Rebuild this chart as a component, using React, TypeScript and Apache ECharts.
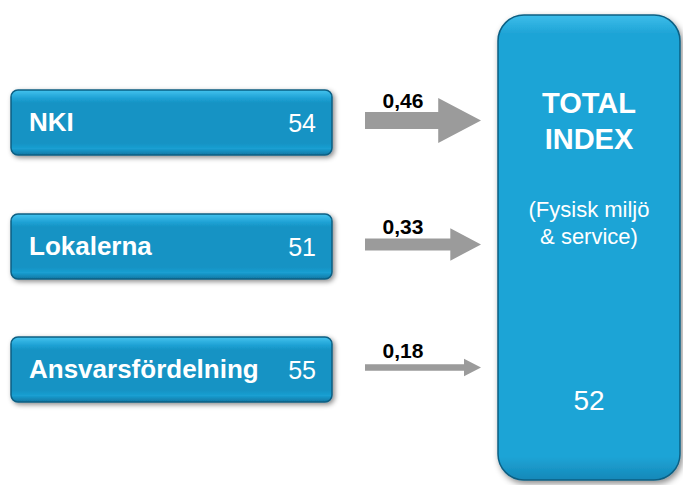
import React, { useEffect, useRef } from "react";
import * as echarts from "echarts";

const drivers = ["NKI", "Lokalerna", "Ansvarsfördelning"];
const driverIndex = [54, 51, 55];
const coefficients = [0.46, 0.33, 0.18];
const totalTitle = ["TOTAL", "INDEX"];
const totalSub = ["(Fysisk miljö", "& service)"];
const totalIndex = 52;

const FONT = "'Liberation Sans', Arial, sans-serif";

function buildGraphic() {
  const els: any[] = [];
  const boxX = 11, boxW = 321, boxH = 65;
  const rowTops = [90, 214, 337];
  drivers.forEach((name, i) => {
    const top = rowTops[i];
    els.push({
      type: "rect",
      shape: { x: boxX, y: top, width: boxW, height: boxH, r: 7 },
      style: {
        fill: new echarts.graphic.LinearGradient(0, 0, 0, 1, [
          { offset: 0, color: "#45c3ee" },
          { offset: 0.12, color: "#1fa3d6" },
          { offset: 0.2, color: "#1593c4" },
          { offset: 0.82, color: "#1593c4" },
          { offset: 0.9, color: "#1a9fd2" },
          { offset: 1, color: "#0f77a3" },
        ]),
        stroke: "#0b5f83",
        lineWidth: 1.5,
        shadowBlur: 5,
        shadowOffsetX: 2,
        shadowOffsetY: 2,
        shadowColor: "rgba(0,0,0,0.45)",
      },
    });
    els.push({
      type: "text",
      style: {
        x: 29, y: top + boxH / 2 - 1, text: name, fill: "#ffffff",
        font: `bold 26px ${FONT}`, verticalAlign: "middle", align: "left",
      },
    });
    els.push({
      type: "text",
      style: {
        x: 316, y: top + boxH / 2, text: String(driverIndex[i]), fill: "#ffffff",
        font: `25px ${FONT}`, verticalAlign: "middle", align: "right",
      },
    });
    // arrow scaled by coefficient
    const c = coefficients[i];
    const cy = top + boxH / 2 - 2;
    const x0 = 365;
    const tip = 481;
    const shaftH = Math.max(4, c * 37);
    const headH = Math.max(13, c * 98);
    const headL = Math.max(17, c * 93);
    const hx = tip - headL;
    els.push({
      type: "polygon",
      shape: {
        points: [
          [x0, cy - shaftH / 2], [hx, cy - shaftH / 2], [hx, cy - headH / 2],
          [tip, cy], [hx, cy + headH / 2], [hx, cy + shaftH / 2], [x0, cy + shaftH / 2],
        ],
      },
      style: { fill: "#9b9b9b" },
    });
    els.push({
      type: "text",
      style: {
        x: 403, y: cy - Math.max(shaftH / 2, 6) - 1, text: c.toFixed(2).replace(".", ","),
        fill: "#000000", font: `bold 21px ${FONT}`, align: "center", verticalAlign: "bottom",
      },
    });
  });

  // total box
  const tx = 498, ty = 15, tw = 182, th = 465;
  const cx = tx + tw / 2;
  els.push({
    type: "rect",
    shape: { x: tx, y: ty, width: tw, height: th, r: 26 },
    style: {
      fill: new echarts.graphic.LinearGradient(0, 0, 0, 1, [
        { offset: 0, color: "#3dbdea" },
        { offset: 0.04, color: "#1ea4d6" },
        { offset: 0.95, color: "#1ea4d6" },
        { offset: 1, color: "#1588b8" },
      ]),
      stroke: "#0b5f83",
      lineWidth: 1.5,
      shadowBlur: 6,
      shadowOffsetX: 2,
      shadowOffsetY: 3,
      shadowColor: "rgba(0,0,0,0.45)",
    },
  });
  totalTitle.forEach((t, k) => {
    els.push({
      type: "text",
      style: {
        x: cx, y: 103 + k * 36, text: t, fill: "#ffffff",
        font: `bold 29px ${FONT}`, align: "center", verticalAlign: "middle",
      },
    });
  });
  totalSub.forEach((t, k) => {
    els.push({
      type: "text",
      style: {
        x: cx, y: 209 + k * 27, text: t, fill: "#ffffff",
        font: `22px ${FONT}`, align: "center", verticalAlign: "middle",
      },
    });
  });
  els.push({
    type: "text",
    style: {
      x: cx, y: 400, text: String(totalIndex), fill: "#ffffff",
      font: `28px ${FONT}`, align: "center", verticalAlign: "middle",
    },
  });
  return els;
}

export default function App() {
  const ref = useRef<HTMLDivElement>(null);
  useEffect(() => {
    if (!ref.current) return;
    const chart = echarts.init(ref.current, null, { renderer: "svg" });
    chart.setOption({
      animation: false,
      backgroundColor: "#ffffff",
      graphic: buildGraphic(),
    });
    return () => chart.dispose();
  }, []);
  return (
    <div style={{ position: "fixed", left: 0, top: 0, width: 683, height: 485 }}>
      <div ref={ref} style={{ width: 683, height: 485 }} />
    </div>
  );
}
